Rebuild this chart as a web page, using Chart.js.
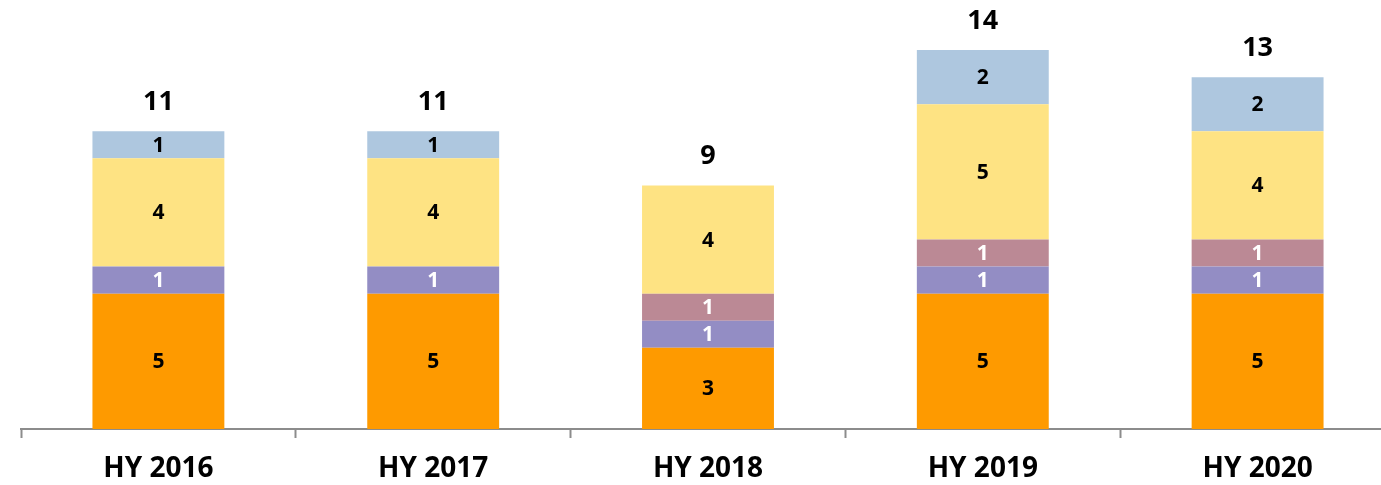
<!DOCTYPE html>
<html>
<head>
<meta charset="utf-8">
<script src="https://cdn.jsdelivr.net/npm/chart.js@4"></script>
<style>
  html, body { margin: 0; padding: 0; background: #fff; overflow: hidden; }
  #wrap { width: 1395px; height: 500px; position: relative; }
</style>
</head>
<body>
<div id="wrap"><canvas id="grafico"></canvas></div>
<script>
const categorias = ['HY 2016', 'HY 2017', 'HY 2018', 'HY 2019', 'HY 2020']; // eixo X
const serieLaranja = [5, 5, 3, 5, 5];
const serieRoxa = [1, 1, 1, 1, 1];
const serieMalva = [0, 0, 1, 1, 1];
const serieAmarela = [4, 4, 4, 5, 4];
const serieAzul = [1, 1, 0, 2, 2];
const totais = [11, 11, 9, 14, 13];

const series = [
  { label: 'Laranja', data: serieLaranja, cor: '#FE9A00', texto: '#000' },
  { label: 'Roxa', data: serieRoxa, cor: '#938DC4', texto: '#fff' },
  { label: 'Malva', data: serieMalva, cor: '#BB8995', texto: '#fff' },
  { label: 'Amarela', data: serieAmarela, cor: '#FEE383', texto: '#000' },
  { label: 'Azul', data: serieAzul, cor: '#AEC7DF', texto: '#000' }
];

const fonte = '"Open Sans", Lato, sans-serif';

// plugin simples para os rótulos dentro das barras e os totais
const rotulos = {
  id: 'rotulos',
  afterDatasetsDraw(chart) {
    const ctx = chart.ctx;
    ctx.save();
    ctx.textAlign = 'center';
    ctx.textBaseline = 'middle';
    chart.data.datasets.forEach((ds, i) => {
      const meta = chart.getDatasetMeta(i);
      meta.data.forEach((bar, j) => {
        const v = ds.data[j];
        if (!v) return;
        ctx.fillStyle = series[i].texto;
        ctx.font = 'bold 21px ' + fonte;
        ctx.fillText(v, bar.x, (bar.y + bar.base) / 2 + 1);
      });
    });
    const ultimo = chart.getDatasetMeta(series.length - 1);
    ultimo.data.forEach((bar, j) => {
      const y = chart.scales.y.getPixelForValue(totais[j]);
      ctx.fillStyle = '#000';
      ctx.font = 'bold 27px ' + fonte;
      ctx.fillText(totais[j], bar.x, y - 29);
    });
    ctx.restore();
  }
};

const ctx = document.getElementById('grafico').getContext('2d');
const grafico = new Chart(ctx, {
  type: 'bar',
  data: {
    labels: categorias,
    datasets: series.map(s => ({
      label: s.label,
      data: s.data,
      backgroundColor: s.cor,
      borderWidth: 0,
      categoryPercentage: 1,
      barPercentage: 0.48
    }))
  },
  plugins: [rotulos],
  options: {
    responsive: true,
    maintainAspectRatio: false,
    animation: false,
    layout: { padding: { left: 21, right: 0, top: 0, bottom: 0 } },
    plugins: {
      legend: { display: false },
      tooltip: { enabled: false }
    },
    scales: {
      x: {
        stacked: true,
        offset: true,
        border: { display: true, color: '#8c8c8c', width: 2 },
        grid: {
          offset: true,
          drawOnChartArea: false,
          drawTicks: true,
          tickLength: 9,
          tickWidth: 2,
          tickColor: '#8c8c8c'
        },
        ticks: {
          color: '#000',
          padding: 14,
          font: { family: fonte, size: 28, weight: 'bold', lineHeight: '34px' }
        }
      },
      y: {
        stacked: true,
        display: false,
        min: 0,
        max: 15.85
      }
    }
  }
});
</script>
</body>
</html>
